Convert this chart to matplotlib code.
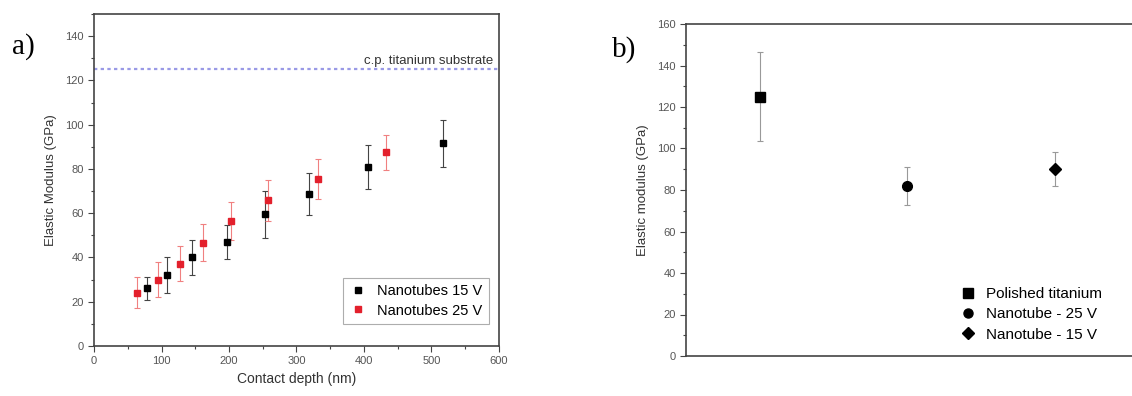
import matplotlib
matplotlib.use("Agg")
import matplotlib.pyplot as plt
from matplotlib.ticker import MultipleLocator
from matplotlib.lines import Line2D

plt.rcParams['font.family'] = ['Liberation Sans', 'DejaVu Sans']

# Panel a data
depth_15 = [78, 108, 145, 197, 253, 318, 406, 517]
mod_15 = [26, 32, 40, 47, 59.5, 68.5, 81, 91.5]
err_15 = [5, 8, 8, 7.5, 10.5, 9.5, 10, 10.5]
depth_25 = [63, 95, 128, 162, 203, 258, 332, 433]
mod_25 = [24, 30, 37.2, 46.7, 56.4, 65.8, 75.5, 87.5]
err_25 = [7, 7.8, 8, 8.5, 8.5, 9.2, 9, 8]
substrate_value = 125
substrate_label = "c.p. titanium substrate"

# Panel b data
categories = ["Polished titanium", "Nanotube - 25 V", "Nanotube - 15 V"]
cat_values = [125, 82, 90]
cat_errors = [21.5, 9.3, 8.2]
cat_markers = ['s', 'o', 'D']

fig = plt.figure(figsize=(11.32, 3.96), dpi=100)
spine_c = '#444444'
tick_c = '#555555'
red = '#e3202c'

ax = fig.add_axes([94/1132, 1-346/396, 405/1132, 332/396])
ax.errorbar(depth_15, mod_15, yerr=err_15, fmt='s', color='black', ms=5,
            ecolor='#444444', elinewidth=0.8, capsize=2, capthick=0.8, zorder=3)
ax.errorbar(depth_25, mod_25, yerr=err_25, fmt='s', color=red, ms=5,
            ecolor='#f08080', elinewidth=0.8, capsize=2, capthick=0.8, zorder=3)
ax.axhline(substrate_value, color='#9a9ae6', linestyle=(0, (1.5, 1.5)), lw=1.6, zorder=1)
ax.text(592, substrate_value + 1.2, substrate_label, ha='right', va='bottom',
        fontsize=9.5, color='#333333')
ax.set_xlim(0, 600)
ax.set_ylim(0, 150)
ax.xaxis.set_major_locator(MultipleLocator(100))
ax.xaxis.set_minor_locator(MultipleLocator(50))
ax.set_yticks(range(0, 141, 20))
ax.yaxis.set_minor_locator(MultipleLocator(10))
ax.set_xlabel('Contact depth (nm)', fontsize=10, color='#333333', labelpad=4)
ax.set_ylabel('Elastic Modulus (GPa)', fontsize=9.5, color='#333333', labelpad=6)
ha = [Line2D([], [], ls='none', marker='s', color='black', ms=5),
      Line2D([], [], ls='none', marker='s', color=red, ms=5)]
leg = ax.legend(ha, ['Nanotubes 15 V', 'Nanotubes 25 V'], loc='lower right',
                bbox_to_anchor=(0.975, 0.066), fontsize=10.5,
                frameon=True, fancybox=False, edgecolor='#999999', handletextpad=0.7,
                borderpad=0.45, labelspacing=0.35, handlelength=1.2, borderaxespad=0)
leg.get_frame().set_linewidth(0.8)
fig.text(12/1132, 1-47/396, 'a)', fontsize=21, family=['Liberation Serif', 'DejaVu Serif'],
         va='center', ha='left')

# Panel b
bx = fig.add_axes([686/1132, 1-356/396, 450/1132, 332/396])
xs = list(range(1, len(categories) + 1))
hb = []
for x, v, e, m in zip(xs, cat_values, cat_errors, cat_markers):
    msz = 7 if m != 'D' else 6.5
    bx.errorbar([x], [v], yerr=[e], fmt=m, color='black', ms=msz,
                ecolor='#999999', elinewidth=0.8, capsize=2.5, capthick=0.8, zorder=3)
    hb.append(Line2D([], [], ls='none', marker=m, color='black', ms=msz - 0.5))
bx.set_xlim(0.5, 3.55)
bx.set_ylim(0, 160)
bx.set_xticks([])
bx.yaxis.set_major_locator(MultipleLocator(20))
bx.yaxis.set_minor_locator(MultipleLocator(10))
bx.set_ylabel('Elastic modulus (GPa)', fontsize=9.5, color='#333333', labelpad=6)
bx.spines['right'].set_visible(False)
lg2 = bx.legend(hb, categories, loc='lower left', bbox_to_anchor=(0.592, 0.025), fontsize=11,
                frameon=False, handletextpad=0.6, labelspacing=0.4, handlelength=1.2,
                borderaxespad=0)
fig.text(612/1132, 1-50/396, 'b)', fontsize=21, family=['Liberation Serif', 'DejaVu Serif'],
         va='center', ha='left')

for a in (ax, bx):
    for s in a.spines.values():
        s.set_color(spine_c)
        s.set_linewidth(1.2)
    a.tick_params(which='both', direction='out', colors=spine_c, labelcolor=tick_c, labelsize=8)
    a.tick_params(which='major', length=4, width=0.8)
    a.tick_params(which='minor', length=2.5, width=0.8)

fig.savefig('out.png', dpi=100)
